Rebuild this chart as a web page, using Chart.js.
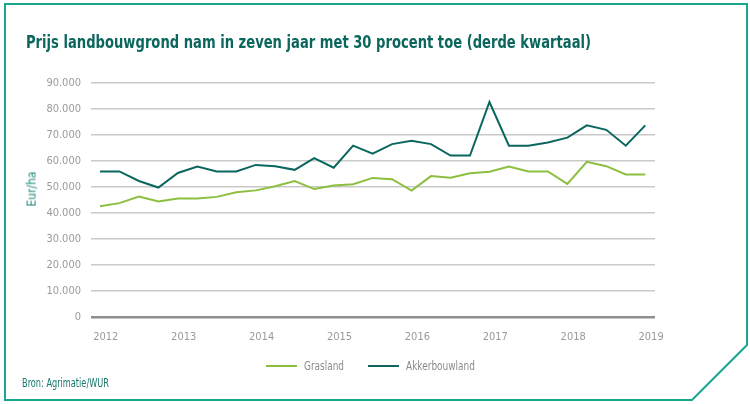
<!DOCTYPE html>
<html>
<head>
<meta charset="utf-8">
<script src="https://cdn.jsdelivr.net/npm/chart.js@4.4.0/dist/chart.umd.min.js"></script>
<style>
  html, body { margin: 0; padding: 0; background: #fff; }
  #wrap { position: relative; width: 750px; height: 404px; overflow: hidden; }
  #hitcanvas { position: absolute; left: 0; top: 0; }
  .narrow { font-family: "Liberation Sans Narrow", "DejaVu Sans Condensed", "Liberation Sans", sans-serif; font-stretch: condensed; position: absolute; white-space: nowrap; transform-origin: 0 50%; line-height: 1; }
  #title { left: 26px; top: 33px; font-size: 18px; font-weight: bold; color: #0b675e; }
  #ytitle { font-size: 12px; color: #1a8a7a; left: 14px; top: 183px; transform-origin: 50% 50%; }
  .legtext { font-size: 13px; color: #8c8c8c; top: 359px; }
  .legline { position: absolute; height: 2px; top: 365px; }
  #source { left: 22px; top: 377px; font-size: 12px; color: #17766c; }
  #frame { position: absolute; left: 0; top: 0; }
</style>
</head>
<body>
<div id="wrap">
  <svg id="frame" width="750" height="404">
    <polygon points="5,4 747,4 747,345 692,400 5,400" fill="none" stroke="#1aa58f" stroke-width="2"/>
  </svg>
  <canvas id="hitcanvas" width="750" height="404"></canvas>
  <div id="title" class="narrow">Prijs landbouwgrond nam in zeven jaar met 30 procent toe (derde kwartaal)</div>
  <div id="ytitle" class="narrow">Eur/ha</div>
  <div id="legend"></div>
  <div id="source" class="narrow">Bron: Agrimatie/WUR</div>
</div>
<script>
var years = ["2012", "2013", "2014", "2015", "2016", "2017", "2018", "2019"];

var grasland = [42600, 43800, 46300, 44400, 45600, 45600, 46200, 48000,
	48700, 50300, 52300, 49200, 50600, 51100, 53500, 53000,
	48600, 54200, 53600, 55300, 55900, 57900, 56000, 56000,
	51200, 59700, 58000, 54800, 54800];

var akkerbouwland = [56000, 56000, 52300, 49800, 55400, 57900, 56000, 56000,
	58500, 58000, 56600, 61100, 57400, 65900, 62800, 66500,
	67800, 66500, 62100, 62100, 82700, 65900, 65900, 67100,
	69000, 73700, 72000, 65900, 73700];

var seriesNames = ["Grasland", "Akkerbouwland"];
var seriesColors = ["#8cbf3f", "#0b675e"];

var tickFont = { family: "'Liberation Sans Narrow', 'DejaVu Sans Condensed', 'Liberation Sans', sans-serif", size: 11 };

function points(arr) {
	return arr.map(function (v, i) { return { x: i, y: v }; });
}

function dots(v) {
	return String(v).replace(/\B(?=(\d{3})+(?!\d))/g, ".");
}

// squeeze a text box to a given width (no narrow font installed)
function fit(el, w, extra) {
	var r = w / el.getBoundingClientRect().width;
	el.style.transform = (extra || '') + 'scaleX(' + r + ')';
}

// legend, drawn in html
var legLines = [266, 368], legTexts = [304, 406], legWidths = [40, 69];
var leg = document.getElementById("legend");
seriesNames.forEach(function (n, i) {
	var ln = document.createElement("div");
	ln.className = "legline";
	ln.style.left = legLines[i] + "px";
	ln.style.width = "31px";
	ln.style.background = seriesColors[i];
	leg.appendChild(ln);
	var t = document.createElement("div");
	t.className = "narrow legtext";
	t.style.left = legTexts[i] + "px";
	t.textContent = n;
	leg.appendChild(t);
	fit(t, legWidths[i]);
});
fit(document.getElementById("title"), 565);
fit(document.getElementById("source"), 87);
document.getElementById("ytitle").style.transform = "rotate(-90deg)";

var ctx = document.getElementById("hitcanvas").getContext("2d");
window.myLine = new Chart(ctx, {
	type: 'line',
	data: {
		datasets: [
			{
				label: seriesNames[0],
				data: points(grasland),
				borderColor: seriesColors[0],
				borderWidth: 2,
				pointRadius: 0,
				tension: 0,
				fill: false
			},
			{
				label: seriesNames[1],
				data: points(akkerbouwland),
				borderColor: seriesColors[1],
				borderWidth: 2,
				pointRadius: 0,
				tension: 0,
				fill: false
			}
		]
	},
	options: {
		responsive: false,
		animation: false,
		layout: {
			padding: { left: 22, right: 95, top: 83, bottom: 57 }
		},
		plugins: {
			legend: { display: false },
			title: { display: false },
			tooltip: { enabled: false }
		},
		scales: {
			x: {
				type: 'linear',
				min: -0.46,
				max: 28.5,
				grid: { display: false },
				border: { display: false },
				afterBuildTicks: function (scale) {
					scale.ticks = years.map(function (y, i) { return { value: i * 4 + 0.3 }; });
				},
				afterFit: function (scale) { scale.height = 30; },
				ticks: {
					color: '#9a9a9a',
					font: tickFont,
					padding: 6,
					maxRotation: 0,
					autoSkip: false,
					callback: function (v) { return years[Math.round((v - 0.3) / 4)]; }
				}
			},
			y: {
				min: 0,
				max: 90000,
				afterFit: function (scale) { scale.width = 69; },
				border: { display: false },
				grid: {
					drawTicks: false,
					color: function (c) { return c.tick && c.tick.value === 0 ? '#8e8e8e' : '#c9c9c9'; },
					lineWidth: function (c) { return c.tick && c.tick.value === 0 ? 2.5 : 1.5; }
				},
				ticks: {
					stepSize: 10000,
					color: '#9a9a9a',
					font: tickFont,
					padding: 10,
					callback: function (v) { return dots(v); }
				}
			}
		}
	}
});
</script>
</body>
</html>
